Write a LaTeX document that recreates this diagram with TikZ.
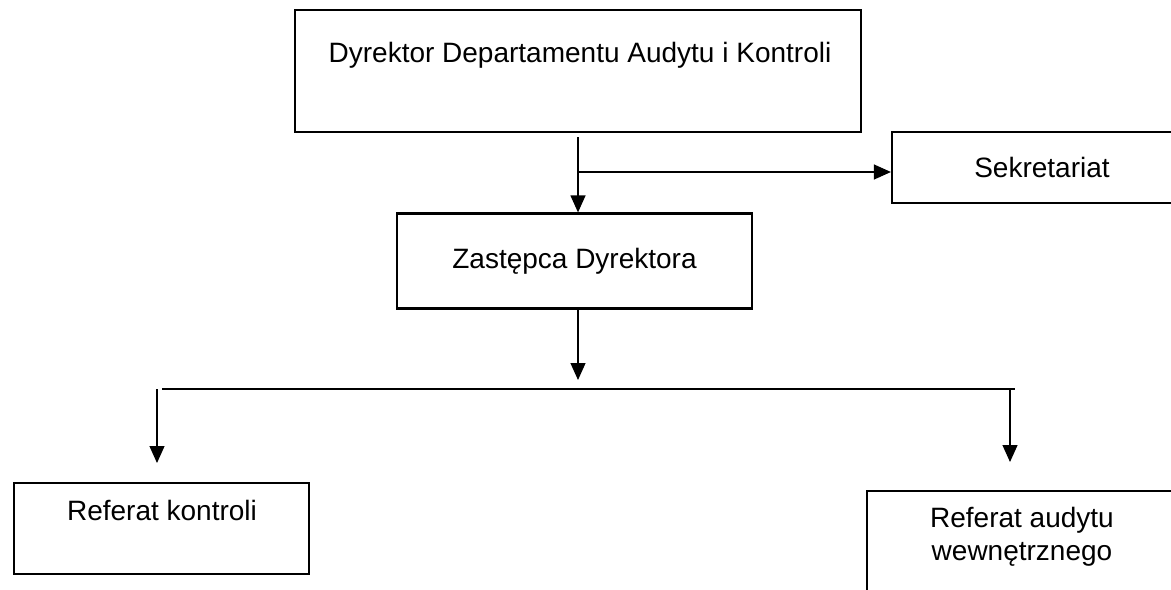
\documentclass[tikz,border=0pt]{standalone}
\usepackage{fontspec}
\setmainfont{Liberation Sans}
\usetikzlibrary{positioning,arrows.meta}

\begin{document}
\begin{tikzpicture}[x=0.5pt,y=-0.5pt,
    box/.style={draw,line width=1.1pt,inner sep=0pt},
    txt/.style={inner sep=0pt,font=\fontsize{14}{16.5}\selectfont,align=center},
    con/.style={line width=0.6pt},
    arr/.style={con,-{Triangle[length=8.5pt,width=7.5pt]}}]
  \useasboundingbox (0,0) rectangle (1171,589);
  \clip (0,0) rectangle (1171,589);

  % boxes
  \node[box,minimum width=283pt,minimum height=61pt] (dyr) at (578,71) {};
  \node[txt] (dyrt) at (580,55) {Dyrektor Departamentu Audytu i Kontroli};
  \node[box,txt,minimum width=150pt,minimum height=35.5pt] (sek) at (1042,167.5) {Sekretariat};
  \node[box,txt,minimum width=177.5pt,minimum height=47.5pt] (zast) at (574.5,261) {Zastępca Dyrektora};
  \node[box,minimum width=147.5pt,minimum height=45.5pt] (refk) at (161.5,528.5) {};
  \node[txt] (refkt) at (162,510) {Referat kontroli};
  \node[box,minimum width=160pt,minimum height=64.5pt] (refa) at (1027,555.5) {};
  \node[txt] (refat) at (1022,537) {Referat audytu\\wewnętrznego};

  % connectors
  \coordinate (j1) at (578,172);
  \coordinate (b1) at (578,380);
  \coordinate (bl) at (162,389);
  \coordinate (br) at (1015,389);
  \coordinate (kt) at (157,463);
  \coordinate (at) at (1010,462);
  \draw[arr] ([yshift=-2pt]dyr.south) -- (dyr.south |- zast.north);
  \draw[arr] (j1) -- (j1 -| sek.west);
  \draw[arr] (b1 |- zast.south) -- (b1);
  \draw[con] (bl) -- (br);
  \draw[arr] (kt |- bl) -- (kt);
  \draw[arr] (at |- br) -- (at);
\end{tikzpicture}
\end{document}
